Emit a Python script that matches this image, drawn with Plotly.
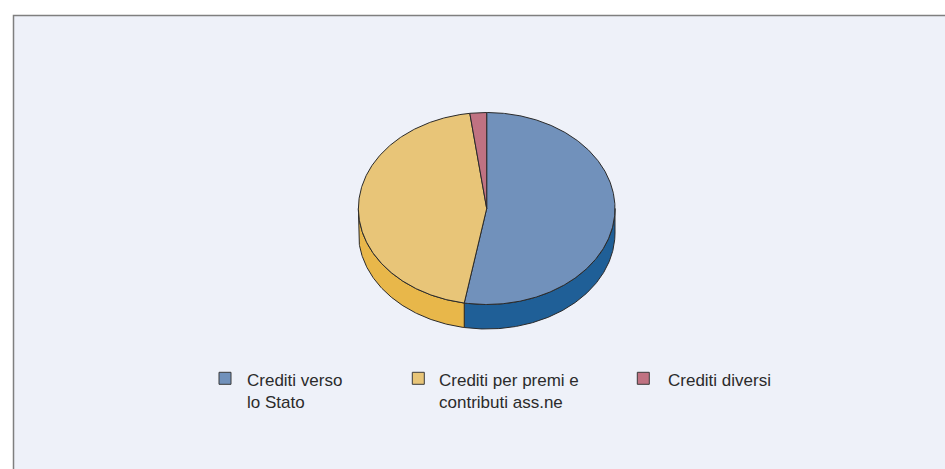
import numpy as np
import plotly.graph_objects as go

# ---- data ----
categories = ["Crediti verso<br>lo Stato", "Crediti per premi e<br>contributi ass.ne", "Crediti diversi"]
values = [52.8, 45.1, 2.1]
top_colors = ["#7191BB", "#E8C578", "#C07282"]
side_colors = ["#1F5F97", "#E8B74A", "#A0505F"]

# ---- geometry (pixel space) ----
W, H = 945, 469
cx, cy = 486.7, 208.5
rx, ry = 128.3, 96.0
depth = 24.5
edge = "#2a2a2a"

def pt(theta_deg, dy=0.0):
    t = np.radians(theta_deg)
    return cx + rx * np.sin(t), cy - ry * np.cos(t) + dy

def arc(a0, a1, dy=0.0, n=None):
    if n is None:
        n = max(2, int(abs(a1 - a0) * 2) + 1)
    th = np.linspace(a0, a1, n)
    xs, ys = pt(th, dy)
    return list(xs), list(ys)

fig = go.Figure()

# panel
fig.add_shape(type="rect", x0=13.5, y0=15.5, x1=W + 20, y1=H + 20,
              line=dict(color="#7f7f7f", width=1.5), fillcolor="#EEF1F9", layer="below")

total = sum(values)
angles = np.cumsum([0] + [v / total * 360 for v in values])

# sides (front half: 90..270)
for i, v in enumerate(values):
    a0, a1 = angles[i], angles[i + 1]
    lo, hi = max(a0, 90), min(a1, 270)
    if lo < hi:
        xt, yt = arc(lo, hi)
        xb, yb = arc(hi, lo, dy=depth)
        xs = xt + xb + [xt[0]]
        ys = yt + yb + [yt[0]]
        fig.add_trace(go.Scatter(x=xs, y=ys, mode="lines", fill="toself",
                                 fillcolor=side_colors[i], line=dict(color=edge, width=1),
                                 hoverinfo="skip", showlegend=False))

# tops
for i, v in enumerate(values):
    a0, a1 = angles[i], angles[i + 1]
    xa, ya = arc(a0, a1)
    xs = [cx] + xa + [cx]
    ys = [cy] + ya + [cy]
    fig.add_trace(go.Scatter(x=xs, y=ys, mode="lines", fill="toself",
                             fillcolor=top_colors[i], line=dict(color=edge, width=1),
                             hoverinfo="skip", showlegend=False))

# legend
leg_x = [225.0, 418.3, 643.3]
leg_y = 378.3
text_x = [245.0, 436.7, 665.7]
fig.add_trace(go.Scatter(x=leg_x, y=[leg_y] * 3, mode="markers",
                         marker=dict(symbol="square", size=12, color=top_colors,
                                     line=dict(color="#3a3a3a", width=1)),
                         hoverinfo="skip", showlegend=False))
for i, c in enumerate(categories):
    fig.add_annotation(x=text_x[i], y=368.5, text=c, showarrow=False,
                       xanchor="left", yanchor="top", align="left",
                       font=dict(family="Liberation Sans, Arial, sans-serif", size=17, color="#2b2b2b"))

fig.update_layout(
    width=W, height=H, margin=dict(l=0, r=0, t=0, b=0),
    paper_bgcolor="white", plot_bgcolor="white",
    xaxis=dict(range=[0, W], visible=False, fixedrange=True),
    yaxis=dict(range=[H, 0], visible=False, fixedrange=True),
    showlegend=False,
)
fig.write_html("out.html")
